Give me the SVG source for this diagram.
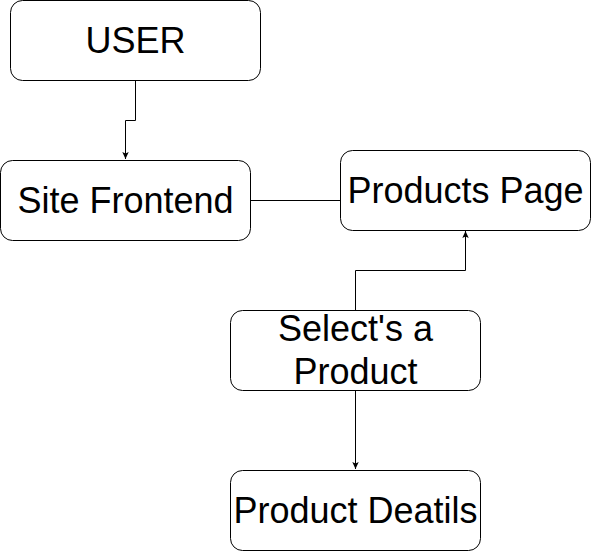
<svg xmlns="http://www.w3.org/2000/svg" width="591" height="551" viewBox="0 0 591 551">
<defs>
<marker id="arr" markerWidth="8" markerHeight="8" refX="7" refY="4" orient="auto" markerUnits="userSpaceOnUse">
<path d="M0,0.8 L7,4 L0,7.2 L1.5,4 Z" fill="#000"/>
</marker>
<style>
.box{fill:#fff;stroke:#000;stroke-width:1}
.lbl{font-family:"Liberation Sans",Arial,sans-serif;font-size:36px;fill:#000;text-anchor:middle}
.edge{fill:none;stroke:#000;stroke-width:1}
</style>
</defs>
<rect width="591" height="551" fill="#fff"/>
<g id="connectors">
<path class="edge" d="M135.5,80 V120.5 H125.5 V159" marker-end="url(#arr)"/>
<path class="edge" d="M250,200.5 H340"/>
<path class="edge" d="M355.5,310 V270.5 H465.5 V231" marker-end="url(#arr)"/>
<path class="edge" d="M355.5,390 V469" marker-end="url(#arr)"/>
</g>
<g id="user">
<rect class="box" x="10.5" y="0.5" width="250" height="80" rx="12"/>
<text class="lbl" x="135.5" y="53">USER</text>
</g>
<g id="site-frontend">
<rect class="box" x="0.5" y="160.5" width="250" height="80" rx="12"/>
<text class="lbl" x="125.5" y="213">Site Frontend</text>
</g>
<g id="products-page">
<rect class="box" x="340.5" y="150.5" width="250" height="80" rx="12"/>
<text class="lbl" x="465.5" y="203">Products Page</text>
</g>
<g id="select-product">
<rect class="box" x="230.5" y="310.5" width="250" height="80" rx="12"/>
<text class="lbl" x="355.5" y="341">Select's a</text>
<text class="lbl" x="355.5" y="384">Product</text>
</g>
<g id="product-details">
<rect class="box" x="230.5" y="470.5" width="250" height="80" rx="12"/>
<text class="lbl" x="355.5" y="523">Product Deatils</text>
</g>
</svg>
